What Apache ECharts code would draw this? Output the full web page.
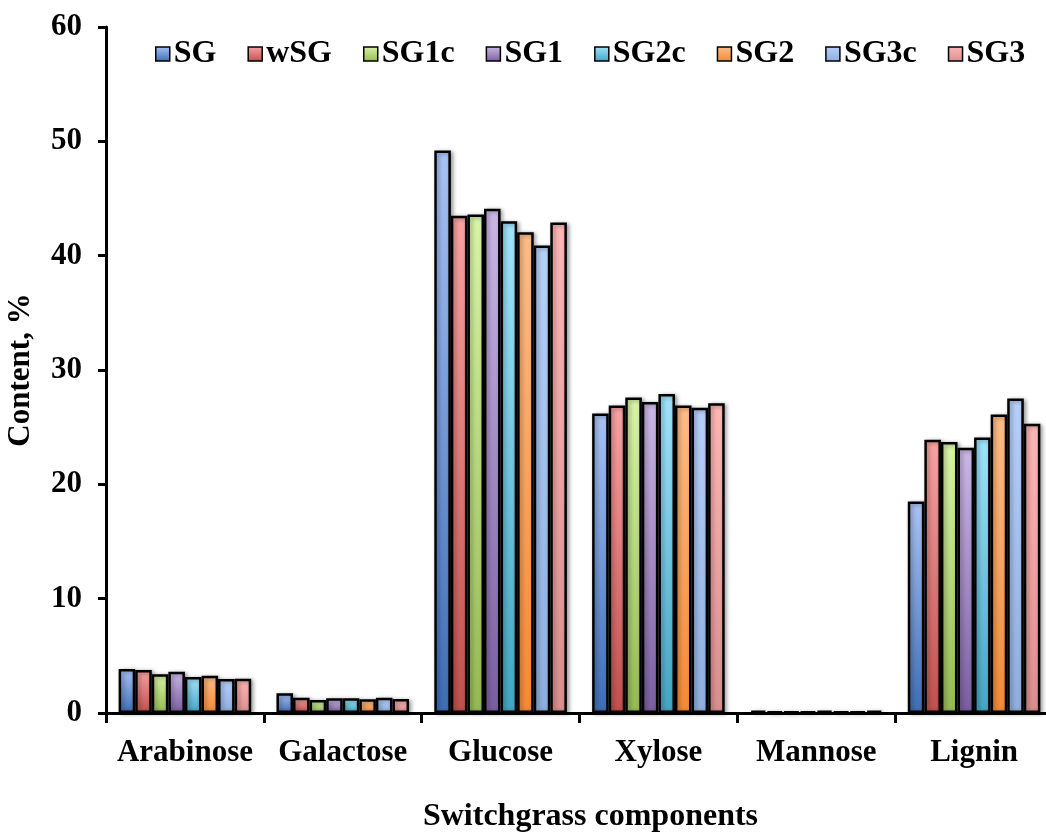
<!DOCTYPE html>
<html>
<head>
<meta charset="utf-8">
<script src="https://cdn.jsdelivr.net/npm/echarts@6/dist/echarts.min.js"></script>
<style>
  html, body { margin: 0; padding: 0; background: #fff; }
  #main { width: 1046px; height: 833px; }
</style>
</head>
<body>
<div id="main"></div>
<script>
var categories = ['Arabinose', 'Galactose', 'Glucose', 'Xylose', 'Mannose', 'Lignin'];
var seriesNames = ['SG', 'wSG', 'SG1c', 'SG1', 'SG2c', 'SG2', 'SG3c', 'SG3'];

var SG   = [3.85, 1.72, 49.2, 26.2, 0.2, 18.5];
var wSG  = [3.76, 1.34, 43.5, 26.9, 0.15, 23.9];
var SG1c = [3.4, 1.14, 43.6, 27.6, 0.15, 23.7];
var SG1  = [3.6, 1.28, 44.1, 27.2, 0.15, 23.2];
var SG2c = [3.15, 1.28, 43.0, 27.9, 0.2, 24.1];
var SG2  = [3.26, 1.2, 42.05, 26.9, 0.15, 26.1];
var SG3c = [2.97, 1.34, 40.9, 26.7, 0.15, 27.5];
var SG3  = [3.0, 1.22, 42.9, 27.1, 0.2, 25.3];

var yTicks = [0, 10, 20, 30, 40, 50, 60];

// top / bottom colours of each bar gradient
var colorTops = ['#a9c3f5', '#f8a3a3', '#d8f5a8', '#cbb8e6', '#a0e4fc', '#fdbd88', '#b7d0fb', '#ffb6b6'];
var colorBots = ['#3e6db4', '#c0504d', '#95b954', '#7a5ea0', '#42a6c2', '#f58a35', '#8eaede', '#d98f8e'];

var allData = [SG, wSG, SG1c, SG1, SG2c, SG2, SG3c, SG3];

function grad(i) {
    return new echarts.graphic.LinearGradient(0, 0, 0, 1, [
        { offset: 0, color: colorTops[i] },
        { offset: 1, color: colorBots[i] }
    ]);
}

var series = seriesNames.map(function (name, i) {
    return {
        name: name,
        type: 'bar',
        data: allData[i],
        barGap: '0%',
        barCategoryGap: '16%',
        itemStyle: {
            color: grad(i),
            borderColor: '#000',
            borderWidth: 2.5,
            shadowBlur: 4,
            shadowColor: 'rgba(0,0,0,0.35)',
            shadowOffsetX: 2,
            shadowOffsetY: 1
        }
    };
});

var myChart = echarts.init(document.getElementById('main'));

var font = '"Liberation Serif", "Times New Roman", serif';

var option = {
    backgroundColor: '#fff',
    animation: false,
    textStyle: { fontFamily: font },
    legend: {
        left: 150,
        top: 33,
        itemWidth: 14,
        itemHeight: 14,
        itemGap: 31,
        icon: 'rect',
        itemStyle: { borderColor: '#000', borderWidth: 1.5, shadowBlur: 0 },
        textStyle: { fontFamily: font, fontWeight: 'bold', fontSize: 32, color: '#000', padding: [0, 0, 0, -1] },
        data: seriesNames
    },
    grid: {
        left: 106,
        right: -7,
        top: 27,
        bottom: 120,
        outerBoundsMode: 'none'
    },
    xAxis: {
        type: 'category',
        data: categories,
        name: 'Switchgrass components',
        nameLocation: 'middle',
        nameGap: 88,
        nameTextStyle: { fontFamily: font, fontWeight: 'bold', fontSize: 32, color: '#000', padding: [0, 0, 0, 22] },
        axisLine: { lineStyle: { color: '#000', width: 3 } },
        axisTick: { show: true, interval: 0, length: 10, lineStyle: { color: '#000', width: 3 } },
        axisLabel: { interval: 0, fontFamily: font, fontWeight: 'bold', fontSize: 31, color: '#000', margin: 24 }
    },
    yAxis: {
        type: 'value',
        min: yTicks[0],
        max: yTicks[yTicks.length - 1],
        interval: 10,
        name: 'Content, %',
        nameLocation: 'middle',
        nameGap: 70,
        nameTextStyle: { fontFamily: font, fontWeight: 'bold', fontSize: 31, color: '#000' },
        splitLine: { show: false },
        axisLine: { show: true, lineStyle: { color: '#000', width: 3 } },
        axisTick: { show: true, length: 8, lineStyle: { color: '#000', width: 3 } },
        axisLabel: { fontFamily: font, fontWeight: 'bold', fontSize: 31, color: '#000', margin: 24 }
    },
    series: series
};

myChart.setOption(option);
</script>
</body>
</html>
